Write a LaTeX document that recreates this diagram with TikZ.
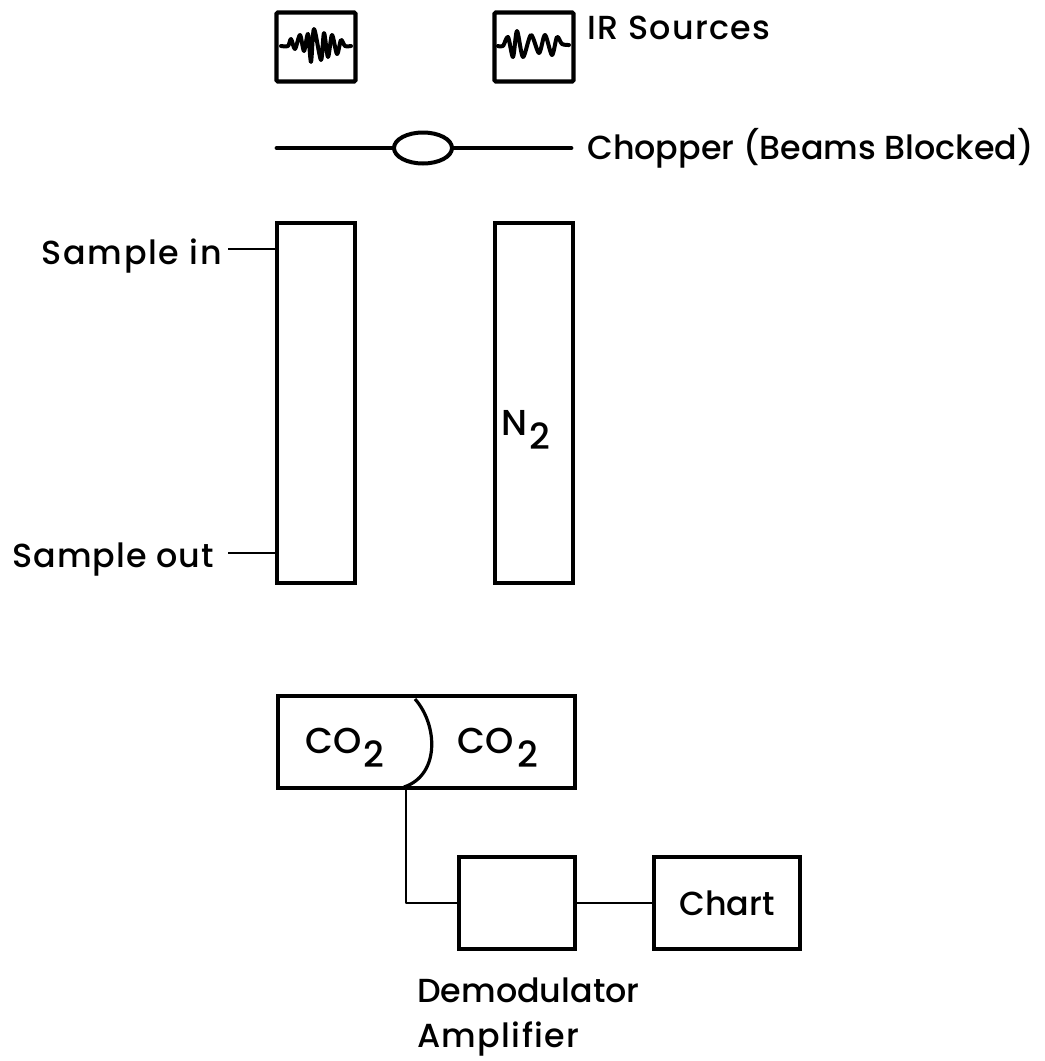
\documentclass[tikz,border=0pt]{standalone}
\usepackage{fontspec}
\setmainfont{Poppins Medium}
\usetikzlibrary{shapes.geometric}
\newcommand{\lowtwo}{\raisebox{-0.7ex}{2}}
\newcommand{\pxl}{0.75pt}
\begin{document}
\begin{tikzpicture}[x=0.75pt,y=-0.75pt,every node/.style={font=\fontsize{25}{30}\selectfont,black,inner sep=0pt}]
    \tikzset{
      sourcebox/.style={draw,line width=3.2pt,rounded corners=1pt,minimum width=79*\pxl,minimum height=69*\pxl},
      cellbox/.style={draw,line width=2.7pt,minimum width=78*\pxl,minimum height=360*\pxl},
      unitbox/.style={draw,line width=3pt,minimum height=92*\pxl},
      wave/.style={line width=3pt,line join=round,line cap=round},
      wire/.style={line width=1.8pt},
      gaslabel/.style={font=\fontsize{27}{32}\selectfont},
      spaced/.style={font=\fontsize{25}{30}\selectfont\addfontfeature{LetterSpace=#1}}
    }
    \useasboundingbox (0,0) rectangle (1045,1061);
    % sources
    \node[sourcebox] (srcA) at (316,47) {};
    \node[sourcebox] (srcB) at (534,47) {};
    \draw[wave] plot[smooth,tension=0.5] coordinates {(281,46) (288,46) (291,39) (295,49) (300,35) (304,51) (308,34) (311,62) (314,29) (321,60) (324,33) (328,57) (332,35) (337,54) (341,40) (345,46) (351,46)};
    \draw[wave] plot[smooth,tension=0.5] coordinates {(498,46) (503,46) (508,37) (513,57) (517,31) (523,57) (531,35) (539,53) (545,35) (552,55) (557,37) (562,44) (569,45)};
    \node[anchor=west,spaced=4] (irlabel) at (587,28) {IR Sources};
    % chopper
    \node[draw,ellipse,line width=3pt,minimum width=58*\pxl,minimum height=31*\pxl] (disc) at (423,148) {};
    \coordinate (chopL) at (277,148);
    \coordinate (chopR) at (571,148);
    \draw[line width=3.6pt,line cap=round] (chopL) -- (disc.west);
    \draw[line width=3.6pt,line cap=round] (disc.east) -- (chopR);
    \node[anchor=west] (choplabel) at (587,148) {Chopper (Beams Blocked)};
    % cells
    \node[cellbox] (cellA) at (316,403) {};
    \node[cellbox] (cellB) at (534,403) {};
    \node[gaslabel] (ntwo) at (526,430) {N\kern1pt\lowtwo};
    \node[anchor=east,spaced=5] (inlabel) at (222,256) {Sample in};
    \node[anchor=east,spaced=3] (outlabel) at (214,560) {Sample out};
    \coordinate (inport) at (228,249);
    \coordinate (outport) at (228,553);
    \draw[wire] (inport) -- (inport -| cellA.west);
    \draw[wire] (outport) -- (outport -| cellA.west);
    % detector
    \node[unitbox,minimum width=297*\pxl] (det) at (426,742) {};
    \draw[line width=2.4pt] (415,699) .. controls (438,725) and (440,775) .. (404,787);
    \node[gaslabel] (gasA) at (345,748) {CO\kern1pt\lowtwo};
    \node[gaslabel] (gasB) at (498,748) {CO\kern3pt\lowtwo};
    % electronics
    \node[unitbox,minimum width=116*\pxl] (demod) at (517,903) {};
    \node[unitbox,minimum width=146*\pxl] (chart) at (727,903) {Chart};
    \coordinate (detout) at (406,788);
    \draw[wire,line join=round] (detout) |- (demod.west);
    \draw[wire] (demod) -- (chart);
    \node[anchor=west] (demlabel) at (417,990) {Demodulator};
    \node[anchor=west,spaced=4] (amplabel) at (417,1039) {Amplifier};
\end{tikzpicture}
\end{document}
